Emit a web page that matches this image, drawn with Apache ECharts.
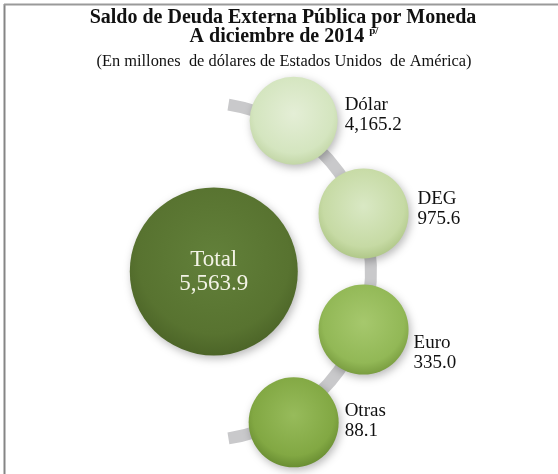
<!DOCTYPE html>
<html>
<head>
<meta charset="utf-8">
<script src="https://cdn.jsdelivr.net/npm/echarts@6/dist/echarts.min.js"></script>
<style>
  html, body { margin: 0; padding: 0; background: #fff; }
  #chart { width: 558px; height: 474px; }
</style>
</head>
<body>
<div id="chart"></div>
<script>
// data
const categories = ["Dólar", "DEG", "Euro", "Otras"];
const values = [4165.2, 975.6, 335.0, 88.1];
const totalName = "Total";
const totalValue = 5563.9;

// layout / styles (not data)
const circleSize = [88, 90, 90, 90];
const totalSize = 168;
const labelDistance = [7, 9, 5, 6];
const labelOffset = [[0, -6], [0, -4], [0, 23], [0, -1]];
// [light, base, edge]
const circleColors = [
    ["#e4eed6", "#d4e5bf", "#c0d4a3"],
    ["#d9e8c4", "#c6daa4", "#adc585"],
    ["#a6c86d", "#92b856", "#76993d"],
    ["#97bb5b", "#82a843", "#668a30"]
];
const totalColors = ["#62803a", "#587330", "#4a6226"];

const serif = "Liberation Serif";

function fmt(v) {
    return v.toLocaleString("en-US", { minimumFractionDigits: 1, maximumFractionDigits: 1 });
}

function sphere(c) {
    return {
        type: "radial", x: 0.5, y: 0.42, r: 0.6,
        colorStops: [
            { offset: 0, color: c[0] },
            { offset: 0.75, color: c[1] },
            { offset: 1, color: c[2] }
        ]
    };
}

const shadow = {
    opacity: 1,
    shadowBlur: 8,
    shadowOffsetX: 2,
    shadowOffsetY: 3,
    shadowColor: "rgba(0,0,0,0.28)"
};

const points = categories.map((name, i) => ({
    name: name,
    value: [1, i + 0.5, values[i]],
    symbolSize: circleSize[i],
    itemStyle: Object.assign({ color: sphere(circleColors[i]) }, shadow),
    label: {
        show: true,
        position: "right",
        distance: labelDistance[i],
        offset: labelOffset[i],
        align: "left",
        fontFamily: serif,
        fontSize: 19,
        lineHeight: 20,
        color: "#111"
    }
}));

points.unshift({
    name: totalName,
    value: [0.13, 2, totalValue],
    symbolSize: totalSize,
    itemStyle: Object.assign({ color: sphere(totalColors) }, shadow),
    label: {
        show: true,
        position: "inside",
        align: "center",
        fontFamily: serif,
        fontSize: 23,
        lineHeight: 24,
        color: "#f3f3e6"
    }
});

const chart = echarts.init(document.getElementById("chart"));

chart.setOption({
    backgroundColor: "#fff",
    animation: false,
    title: [
        {
            text: "Saldo de Deuda Externa Pública por Moneda",
            left: 283, top: 7, padding: 0, textAlign: "center",
            textStyle: { fontFamily: serif, fontSize: 20, fontWeight: "bold", lineHeight: 22, color: "#111" }
        },
        {
            text: "A diciembre de 2014 {sup|p/}",
            left: 284, top: 26, padding: 0, textAlign: "center",
            textStyle: {
                fontFamily: serif, fontSize: 20, fontWeight: "bold", lineHeight: 22, color: "#111",
                rich: {
                    sup: { fontFamily: serif, fontSize: 11, fontWeight: "bold", verticalAlign: "top", lineHeight: 20, color: "#111" }
                }
            }
        },
        {
            text: "(En millones  de dólares de Estados Unidos  de América)",
            left: 284, top: 53, padding: 0, textAlign: "center",
            textStyle: { fontFamily: serif, fontSize: 16.4, fontWeight: "normal", lineHeight: 18, color: "#111" }
        }
    ],
    graphic: [
        { type: "line", shape: { x1: 4.5, y1: 4, x2: 4.5, y2: 474 }, style: { stroke: "#858585", lineWidth: 2 } },
        { type: "line", shape: { x1: 4, y1: 4.5, x2: 558, y2: 4.5 }, style: { stroke: "#9a9a9a", lineWidth: 2 } }
    ],
    polar: {
        center: [190, 271.5],
        radius: 183
    },
    angleAxis: {
        type: "value",
        min: 0,
        max: 360 / 37,
        startAngle: 74,
        clockwise: true,
        show: false
    },
    radiusAxis: {
        type: "value",
        min: 0,
        max: 1,
        show: false
    },
    series: [
        {
            type: "gauge",
            center: [202, 271.5],
            radius: 175,
            startAngle: 81,
            endAngle: -81,
            min: 0,
            max: 1,
            silent: true,
            axisLine: { lineStyle: { width: 12, color: [[1, "#c9c9cb"]] } },
            splitLine: { show: false },
            axisTick: { show: false },
            axisLabel: { show: false },
            pointer: { show: false },
            anchor: { show: false },
            title: { show: false },
            detail: { show: false },
            data: [{ value: 0 }]
        },
        {
            type: "scatter",
            coordinateSystem: "polar",
            clip: false,
            silent: true,
            label: {
                formatter: p => p.name + "\n" + fmt(p.value[2])
            },
            data: points
        }
    ]
});
</script>
</body>
</html>
